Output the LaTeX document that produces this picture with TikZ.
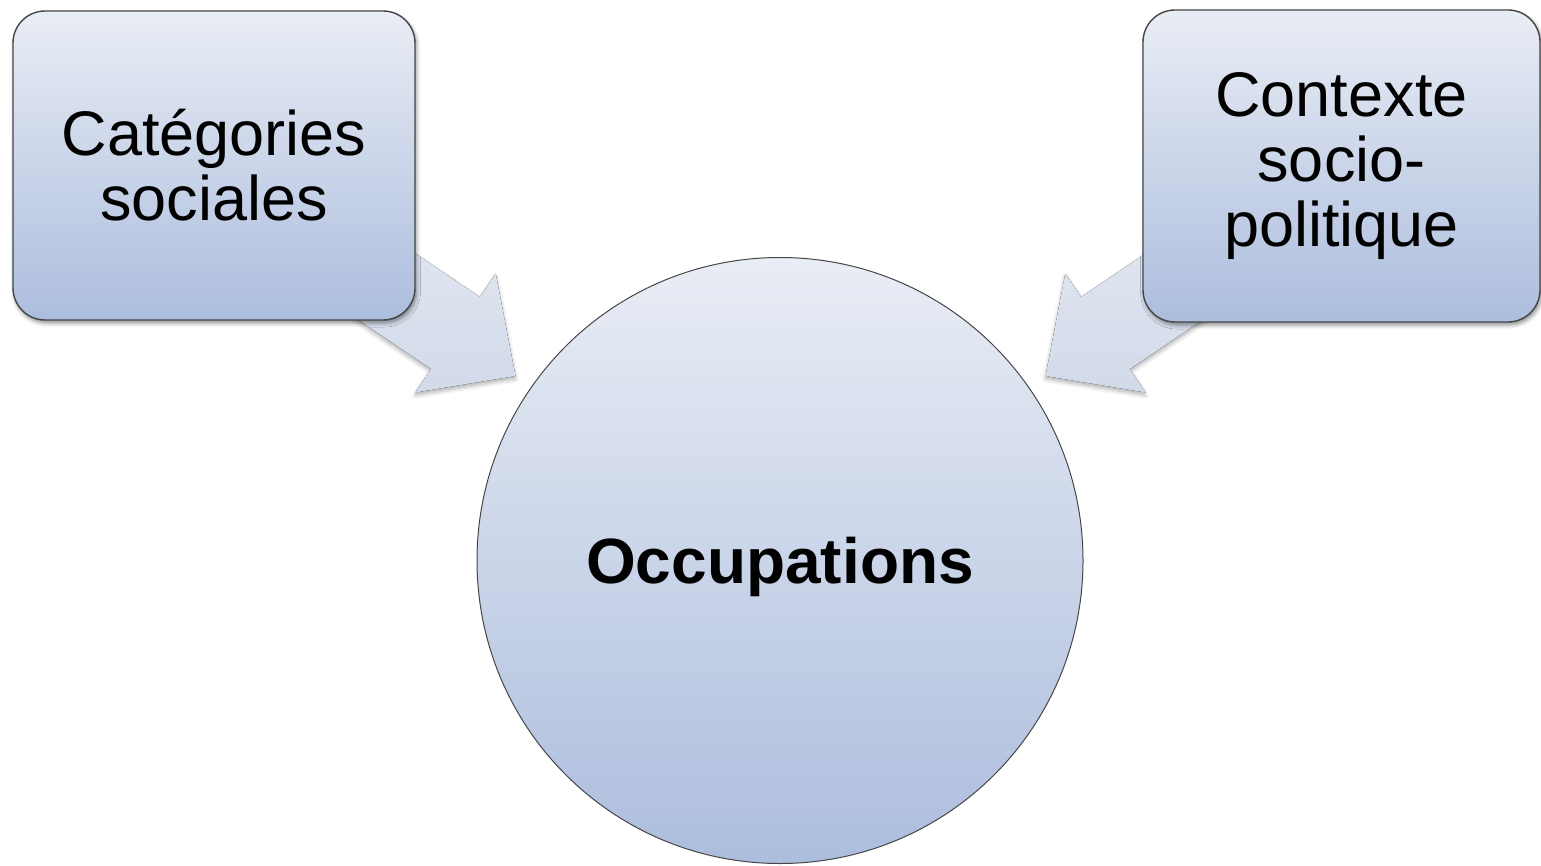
\documentclass[tikz,border=0pt]{standalone}
\usepackage{fontspec}
\setmainfont{Liberation Sans}
\usetikzlibrary{shadows.blur}
\definecolor{gtop}{RGB}{233,237,245}
\definecolor{gbot}{RGB}{172,189,221}
\definecolor{atop}{RGB}{226,231,241}
\definecolor{abot}{RGB}{210,218,233}
\definecolor{edge}{RGB}{70,70,70}
\tikzset{
  x=0.5pt, y=-0.5pt,
  boxnode/.style={draw=edge, line width=0.7pt, rounded corners=16pt,
    top color=gtop, bottom color=gbot, align=center,
    font=\fontsize{31.5}{32.5}\selectfont, inner sep=0pt,
    blur shadow={shadow xshift=0.8pt, shadow yshift=-1.5pt, shadow blur radius=2pt, shadow opacity=45}},
  circnode/.style={circle, draw=edge, line width=0.5pt,
    top color=gtop, bottom color=gbot, inner sep=0pt,
    font=\bfseries\fontsize{32}{36}\selectfont, text depth=0pt},
  blockarrow/.style={top color=atop, bottom color=abot, draw=none,
    blur shadow={shadow xshift=0pt, shadow yshift=-1.5pt, shadow blur radius=2pt, shadow opacity=30}}
}
\begin{document}
\begin{tikzpicture}
\useasboundingbox (0,0) rectangle (1541,866);
% arrows (behind boxes)
\fill[blockarrow] (363.9,218.6) -- (479.9,297) -- (495.7,273.5) -- (515.5,376) -- (415.3,392.5) -- (431.1,369) -- (315.1,290.6) -- cycle;
\fill[blockarrow] (1197.1,218.6) -- (1081.1,297) -- (1065.3,273.5) -- (1045.5,376) -- (1145.7,392.5) -- (1129.9,369) -- (1245.9,290.6) -- cycle;
% boxes
\node[boxnode, minimum width=201pt, minimum height=154.5pt] (cat) at (214,165.5) {Catégories\\sociales};
\node[boxnode, minimum width=198.5pt, minimum height=156pt] (ctx) at (1341.5,166) {Contexte\\socio-\\politique};
% circle
\node[circnode, minimum size=303pt] (occ) at (780,560.5) {Occupations};
\end{tikzpicture}
\end{document}
